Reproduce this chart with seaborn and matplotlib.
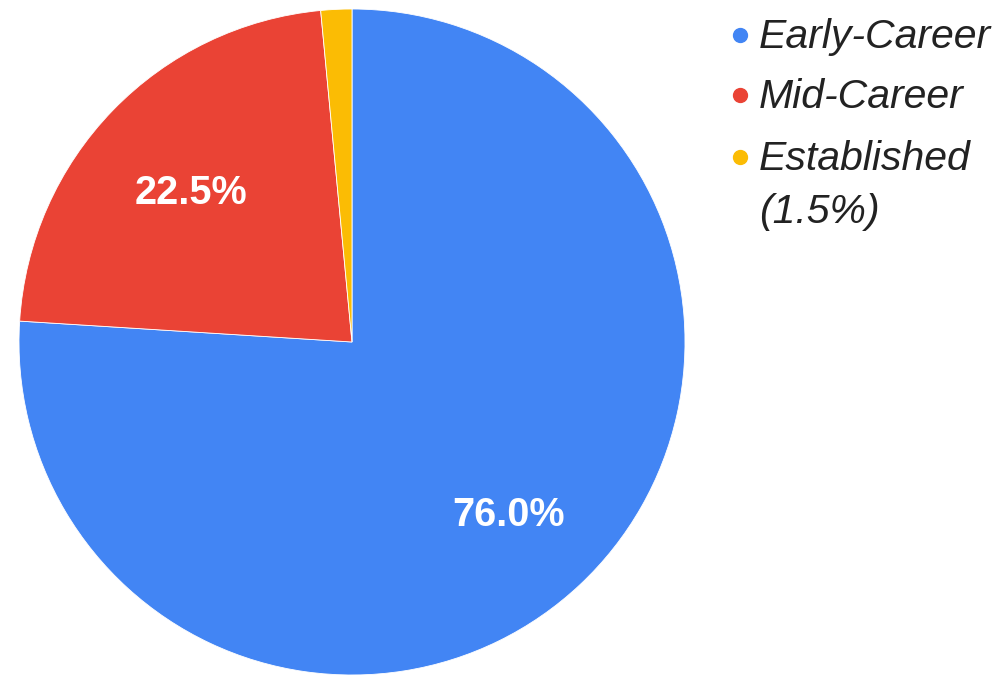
import matplotlib
matplotlib.use("Agg")
import matplotlib.pyplot as plt
from matplotlib.lines import Line2D
import seaborn as sns

# data
categories = ["Early-Career", "Mid-Career", "Established"]
shares = [76.0, 22.5, 1.5]
legend_labels = ["Early-Career", "Mid-Career", "Established\n(1.5%)"]
colors = ["#4285F4", "#EA4335", "#FBBC04"]

sns.set_theme(style="white")
plt.rcParams['font.family'] = ['Liberation Sans', 'DejaVu Sans']

W, H = 1002, 677
fig = plt.figure(figsize=(W / 100, H / 100), dpi=100)
# pie centre ~ (352, 342) px, radius ~333 px
ax = fig.add_axes([19 / W, (H - 342 - 333) / H, 666 / W, 666 / H])


def fmt(pct):
    return f"{pct:.1f}%" if pct >= 5 else ""


wedges, texts, autotexts = ax.pie(
    shares,
    colors=colors,
    startangle=90,
    counterclock=False,
    autopct=fmt,
    pctdistance=0.68,
    wedgeprops=dict(edgecolor="white", linewidth=0.6),
    textprops=dict(color="white", fontsize=28.5, fontweight="bold"),
)
# nudge the percentage labels down a little like the original
for t in autotexts:
    x, y = t.get_position()
    t.set_position((x + 0.005, y - 0.025))
ax.set_xlim(-1, 1)
ax.set_ylim(-1, 1)
ax.set_aspect("equal")

# legend drawn by hand: marker aligned to the first line of each label
row_y = [35, 95, 157]
for lab, c, y in zip(legend_labels, colors, row_y):
    fig.add_artist(Line2D([740 / W], [1 - y / H], marker="o", markersize=10,
                          markerfacecolor=c, markeredgecolor=c, linestyle="none",
                          transform=fig.transFigure))
    fig.text(759 / W, 1 - (y - 17) / H, lab, ha="left", va="top",
             fontsize=29.5, style="italic", color="#222222",
             family="Liberation Sans", linespacing=1.5)

fig.savefig("out.png", dpi=100)
